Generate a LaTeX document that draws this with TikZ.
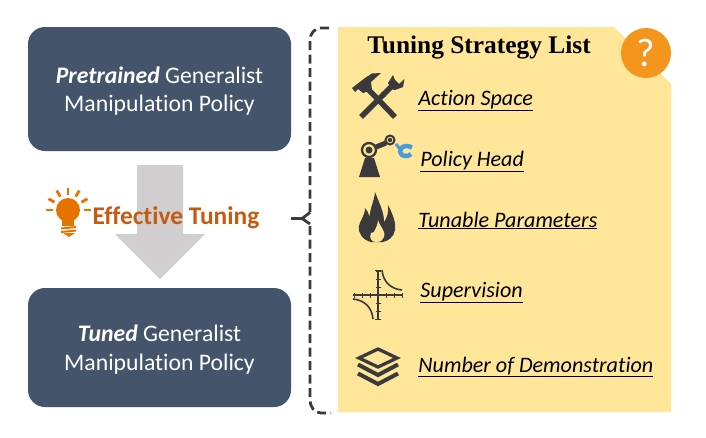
\documentclass[tikz,border=0pt]{standalone}
\usepackage{fontspec}
\setmainfont[Ligatures=NoCommon]{Carlito}
\newfontfamily\titlefont{Liberation Serif}
\usetikzlibrary{arrows.meta, positioning, shapes.arrows}

\definecolor{slateblue}{HTML}{44546A}
\definecolor{paleyellow}{HTML}{FFE699}
\definecolor{qorange}{HTML}{F4961E}
\definecolor{tuneorange}{HTML}{C55A11}
\definecolor{bulborange}{HTML}{E67300}
\definecolor{arrowgray}{HTML}{D0CECE}
\definecolor{icondark}{HTML}{3A3A3C}
\definecolor{gripblue}{HTML}{4A9BDC}

\tikzset{
	policybox/.style = {rounded corners=17pt, fill=slateblue, text=white, minimum width=263pt, align=center, font=\fontsize{23.7}{28.5}\selectfont},
	tuneitem/.style = {anchor=base west, inner sep=0pt, font=\itshape\fontsize{22.1}{26}\selectfont},
	iconline/.style = {icondark, line cap=butt},
	bracedash/.style = {icondark, line width=2.8pt, dash pattern=on 9pt off 4.5pt},
}

\begin{document}
\begin{tikzpicture}[x=1pt,y=-1pt,>={Stealth[round]},thick]
	
	\useasboundingbox (0,0) rectangle (706,437);
	
	% left column
	\node (pretrained) [policybox, minimum height=124pt] at (159.5,89) {\rule{0pt}{21pt}\textbf{\textit{Pretrained}} Generalist\\Manipulation Policy};
	\node (tuned) [policybox, minimum height=119pt] at (159.5,347.5) {\rule{0pt}{21pt}\textbf{\textit{Tuned}} Generalist\\Manipulation Policy};
	
	\fill [arrowgray] (137,165) -- (183,165) -- (183,234) -- (205,234) -- (160,279) -- (115,234) -- (137,234) -- cycle;
	
	\node (tuning) [anchor=center, text=tuneorange, font=\bfseries\fontsize{25.4}{30}\selectfont, inner sep=0pt] at (176,218) {Effective Tuning};
	
	% light bulb
	\fill [bulborange] (68,210) circle (12pt);
	\fill [bulborange] (62,216) rectangle (74,226);
	\draw [bulborange, line width=2pt] (61,228.5) -- (76,227) (61,232) -- (76,230.5);
	\fill [bulborange] (63,233) -- (75,233) -- (69,237) -- cycle;
	\foreach \ang in {0,30,60,90,120,150,180}
		\draw [bulborange, line width=2.8pt] (68,210) ++(-\ang:15.5) -- ++(-\ang:7);
	
	% brace
	\draw [bracedash] (329,28) -- (321,28) to[out=180,in=90] (310,40) -- (310,212);
	\draw [bracedash] (310,226) -- (310,400) to[out=-90,in=180] (321,413) -- (331,413);
	\draw [icondark, line width=2.8pt] (291,218.5) -- (302,218.5) -- (310,212.5) (302,218.5) -- (310,224);
	
	% list panel
	\fill [paleyellow] (338,27) -- (614,27) -- (671,84) -- (671,412) -- (338,412) -- cycle;
	\node (listtitle) [anchor=center, inner sep=0pt, font=\titlefont\bfseries\fontsize{25.4}{30}\selectfont] at (479,47) {Tuning Strategy List};
	\node (question) [circle, fill=qorange, text=white, minimum size=50pt, inner sep=0pt, font=\fontsize{40}{44}\selectfont] at (646,53) {?};
	
	\node (action) [tuneitem] at (418,105) {\underline{Action Space}};
	\node (head) [tuneitem] at (420,166) {\underline{Policy Head}};
	\node (params) [tuneitem] at (418,227) {\underline{Tunable Parameters}};
	\node (superv) [tuneitem] at (420,297) {\underline{Supervision}};
	\node (demo) [tuneitem] at (418,372) {\underline{Number of Demonstration}};
	
	% hammer and wrench
	\draw [iconline, line width=5.5pt] (361,117) -- (384,94);
	\draw [iconline, line width=5.5pt] (395,117) -- (366,87);
	\fill [icondark] (352,88) -- (365,78) -- (372,73.5) -- (381,73) -- (371,82) -- (372,90) -- (363,93) -- (358,89) -- (355,92) -- cycle;
	\draw [iconline, line width=5.5pt] (383,95) -- (393,85);
	\fill [icondark] (393,75) -- (388,83) -- (391,89) -- (395,90) -- (403,87) -- (404.5,79) -- (399,84) -- (395,80) -- cycle;
	
	% robot arm
	\fill [icondark] (359,177) -- (380,177) -- (374,158) -- (365,158) -- cycle;
	\draw [icondark, fill=paleyellow, line width=2.3pt] (369,150) circle (7pt);
	\fill [icondark] (369,150) circle (3.5pt);
	\draw [icondark, line width=5pt] (376,147) -- (386,143);
	\draw [icondark, fill=paleyellow, line width=2pt] (390,140) circle (4.5pt);
	\fill [icondark] (390,140) circle (2.2pt);
	\draw [gripblue, line width=3pt] (396,144) -- (400,149);
	\draw [gripblue, line width=4.5pt] (412,147.5) .. controls (403,143) and (397,150) .. (402,155) .. controls (405,157) and (409,156) .. (411,154);
	
	% flames
	\fill [icondark] (375,192) .. controls (380,205) and (384,212) .. (384,222) .. controls (387,218) and (389,212) .. (388,205) .. controls (393,215) and (396,222) .. (395,230) .. controls (394,237) and (388,241) .. (383,242) -- (371,242) .. controls (363,240) and (358,234) .. (359,226) .. controls (360,220) and (365,216) .. (365,208) .. controls (369,212) and (370,218) .. (370,223) .. controls (368,210) and (374,204) .. (375,192) -- cycle;
	\fill [paleyellow] (378,220) .. controls (379,226) and (386,230) .. (384,237) .. controls (383,240) and (381,242) .. (376,242) .. controls (371,242) and (369,238) .. (371,233) -- (374,232) .. controls (376,228) and (378,224) .. (378,220) -- cycle;
	
	% axes and curves
	\draw [iconline, line width=1.6pt] (378,270) -- (378,319) (353,295) -- (402,295);
	\draw [iconline, line width=1pt] (375,270.5) -- (381,270.5) (375,319) -- (381,319);
	\foreach \tick in {-24,-16,-8,8,16,24}{
		\draw [iconline, line width=1pt] (378+\tick,292.5) -- (378+\tick,297.5);
		\draw [iconline, line width=1pt] (375.5,295+\tick) -- (380.5,295+\tick);
	}
	\draw [iconline, line width=1.6pt] (382,270) .. controls (383,282) and (391,289) .. (402,290);
	\draw [iconline, line width=1.6pt] (353,299) .. controls (364,300) and (372,307) .. (373,319);
	
	% stack of layers
	\draw [iconline, line width=3.3pt, miter limit=10] (378,349) -- (397,358) -- (378,367) -- (359,358) -- cycle;
	\draw [iconline, line width=4pt, miter limit=10] (358,364.5) -- (378,375) -- (398,364.5);
	\draw [iconline, line width=4pt, miter limit=10] (358,373.5) -- (378,384) -- (398,373.5);
	
\end{tikzpicture}
\end{document}
